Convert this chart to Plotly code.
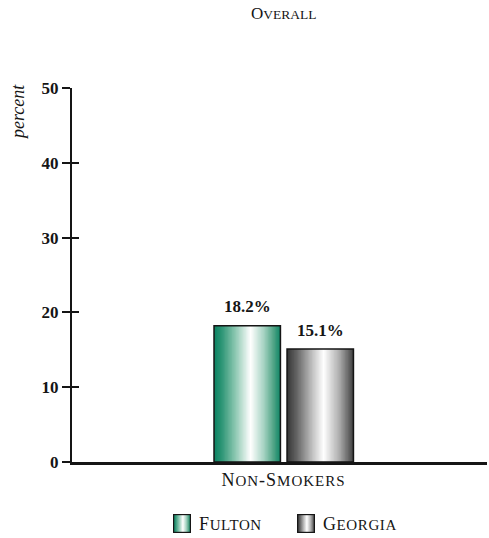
import base64
import plotly.graph_objects as go
from plotly.colors import sample_colorscale

# ---- data ----
categories = ["Non-Smokers"]
series_names = ["Fulton", "Georgia"]
fulton_values = [18.2]
georgia_values = [15.1]
value_labels = ["18.2%", "15.1%"]
y_ticks = [0, 10, 20, 30, 40, 50]

# ---- style ----
FONT = "Liberation Serif"
INK = "#151515"
green_scale = [[0.0, "#0a8262"], [0.12, "#2f9676"], [0.32, "#8cc7b1"],
               [0.55, "#ffffff"], [0.75, "#a6d3c2"], [0.9, "#4ea385"], [1.0, "#0d8565"]]
gray_scale = [[0.0, "#353535"], [0.15, "#666666"], [0.35, "#b5b5b5"],
              [0.55, "#ffffff"], [0.78, "#b0b0b0"], [0.92, "#6a6a6a"], [1.0, "#3e3e3e"]]

BAR_W = 0.157
offsets = [-0.1643, 0.0083]
scales = [green_scale, gray_scale]
values = [fulton_values, georgia_values]
N_SLICES = 48


def small_caps(text, small, spacing=0.0):
    """Render lowercase letters as reduced capitals (typographic small caps)."""
    out, run, run_small = [], "", None
    ls = f"letter-spacing:{spacing}px;" if spacing else ""

    def flush():
        if not run:
            return
        if run_small:
            out.append(f'<span style="font-size:{small}px;{ls}">{run.upper()}</span>')
        elif ls:
            out.append(f'<span style="{ls}">{run}</span>')
        else:
            out.append(run)

    for ch in text:
        is_small = ch.islower()
        if run_small is not None and is_small != run_small:
            flush()
            run = ""
        run += ch
        run_small = is_small
    flush()
    return "".join(out)


fig = go.Figure()

# Each bar is painted as nested slices so the fill carries a horizontal gradient.
for vals, off, scale in zip(values, offsets, scales):
    cols = sample_colorscale(scale, [(i + 0.5) / N_SLICES for i in range(N_SLICES)])
    step = BAR_W / N_SLICES
    for i in range(N_SLICES):
        fig.add_trace(go.Bar(
            x=categories, y=vals, width=BAR_W - i * step, offset=off + i * step,
            marker=dict(color=cols[i], line=dict(width=0)),
            showlegend=False, hoverinfo="skip"))

# Outlines on top of the gradient fills
for name, vals, off in zip(series_names, values, offsets):
    fig.add_trace(go.Bar(
        x=categories, y=vals, width=BAR_W, offset=off, name=name,
        marker=dict(color="rgba(0,0,0,0)", line=dict(color=INK, width=1.5)),
        showlegend=False))

# Value labels above each bar
for vals, off, label in zip(values, offsets, value_labels):
    fig.add_annotation(x=off + BAR_W / 2, y=vals[0], xref="x", yref="y",
                       text=label, showarrow=False, yshift=19,
                       xanchor="center", yanchor="middle",
                       font=dict(family=FONT, size=17, color=INK, weight="bold"))

# Overlay axis used only for the inner half of the crossing tick marks
fig.add_trace(go.Scatter(x=[], y=[], yaxis="y2", showlegend=False))

fig.update_layout(
    width=489, height=538,
    margin=dict(l=72, r=2, t=88, b=76),
    paper_bgcolor="white", plot_bgcolor="white",
    barmode="overlay", showlegend=False,
    font=dict(family=FONT, color=INK),
    xaxis=dict(type="category", range=[-0.5, 0.481], showline=True, linecolor=INK,
               linewidth=2.5, ticks="", showgrid=False, zeroline=False,
               tickvals=categories, ticktext=[small_caps(c, 15, 1.0) for c in categories],
               tickfont=dict(family=FONT, size=18, color=INK)),
    yaxis=dict(range=[0, 50], tickvals=y_ticks, showline=True, linecolor=INK, linewidth=2,
               ticks="outside", ticklen=8, tickwidth=2, tickcolor=INK, showgrid=False,
               zeroline=False, tickfont=dict(family=FONT, size=17, color=INK, weight="bold")),
    yaxis2=dict(range=[0, 50], tickvals=y_ticks, overlaying="y", side="left", anchor="x",
                showline=False, ticks="inside", ticklen=7, tickwidth=2, tickcolor=INK,
                showticklabels=False, showgrid=False, zeroline=False),
)

# Title and axis caption
fig.add_annotation(x=0.511, y=1.198, xref="paper", yref="paper", text=small_caps("Overall", 13.5),
                   xanchor="center", yanchor="middle", showarrow=False,
                   font=dict(family=FONT, size=17, color=INK))
fig.add_annotation(x=-0.130, y=0.936, xref="paper", yref="paper", text="<i>percent</i>",
                   textangle=-90, xanchor="center", yanchor="middle", showarrow=False,
                   font=dict(family=FONT, size=18, color=INK))


# Legend built from gradient swatches and labels
def swatch(scale):
    stops = "".join(f'<stop offset="{p}" stop-color="{c}"/>' for p, c in scale)
    svg = ('<svg xmlns="http://www.w3.org/2000/svg" width="18" height="19">'
           f'<defs><linearGradient id="g">{stops}</linearGradient></defs>'
           '<rect x="0.6" y="0.6" width="16.8" height="17.8" fill="url(#g)" '
           f'stroke="{INK}" stroke-width="1.2"/></svg>')
    return "data:image/svg+xml;base64," + base64.b64encode(svg.encode()).decode()


legend_x = [0.2434, 0.5422]
text_x = [0.3012, 0.600]
for name, scale, sx, tx in zip(series_names, scales, legend_x, text_x):
    fig.add_layout_image(source=swatch(scale), xref="paper", yref="paper", x=sx, y=-0.139,
                         sizex=18 / 415, sizey=19 / 374, xanchor="left", yanchor="top",
                         sizing="stretch", layer="above")
    fig.add_annotation(x=tx, y=-0.1658, xref="paper", yref="paper", text=small_caps(name, 15, 0.6),
                       xanchor="left", yanchor="middle", showarrow=False,
                       font=dict(family=FONT, size=18, color=INK))

fig.write_html("out.html")
